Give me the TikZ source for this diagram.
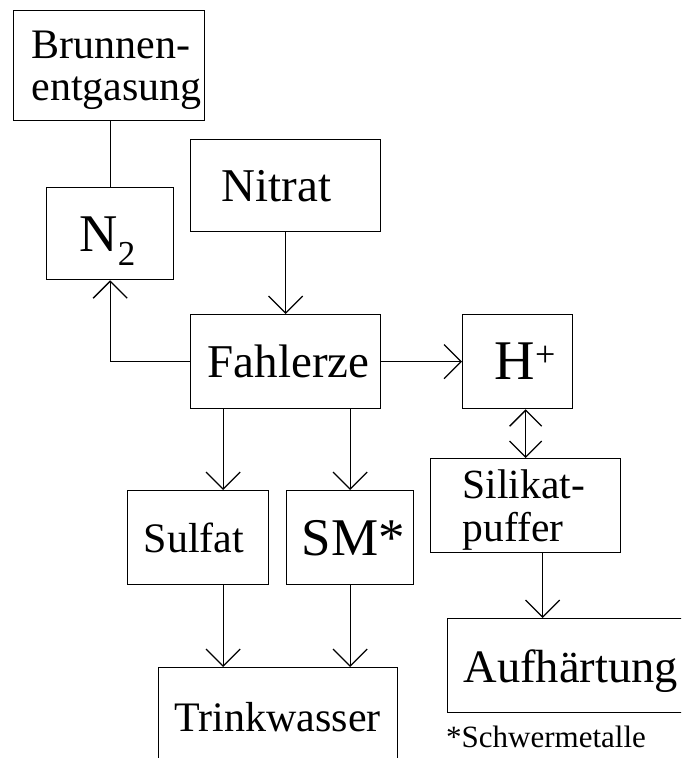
\documentclass[tikz,border=0pt]{standalone}
\usepackage{fontspec}
\setmainfont{Liberation Serif}
\usetikzlibrary{arrows.meta}
\hyphenpenalty=10000
\exhyphenpenalty=10000

\begin{document}
\begin{tikzpicture}[x=1pt, y=-1pt,
    box/.style={draw, line width=1.3pt, anchor=north west, inner ysep=0pt, align=left, text depth=0pt},
    link/.style={line width=1.3pt},
    arr/.style={link, -{Straight Barb[length=17pt, width=34pt]}},
    dblarr/.style={link, {Straight Barb[length=16pt, width=32pt]}-{Straight Barb[length=16pt, width=32pt]}}]

    \path[use as bounding box, clip] (0,0) rectangle (681,758);

    % boxes
    \node[box, minimum height=110, inner xsep=18, text width=155pt, text depth=42pt, font=\fontsize{42}{42}\selectfont] (brunnen) at (13,10) {Brunnen-\\entgasung};
    \node[box, minimum height=92, inner xsep=33, text width=61pt, font=\fontsize{53}{53}\selectfont] (n2) at (46,187) {N\raisebox{-14pt}{\fontsize{35}{35}\selectfont 2}};
    \node[box, minimum height=92, inner xsep=31, text width=128pt, font=\fontsize{47}{47}\selectfont] (nitrat) at (190,139) {Nitrat};
    \node[box, minimum height=94, inner xsep=17, text width=156pt, font=\fontsize{47}{47}\selectfont] (fahlerze) at (190,314) {Fahlerze};
    \node[box, minimum height=94, inner xsep=32, text width=46pt, font=\fontsize{56}{56}\selectfont] (hplus) at (462,314) {H\raisebox{13pt}{\fontsize{36}{36}\selectfont +}};
    \node[box, minimum height=94, inner xsep=32, text width=126pt, text depth=43pt, font=\fontsize{41.5}{43}\selectfont] (silikat) at (430,458) {Silikat-\\puffer};
    \node[box, minimum height=94, inner xsep=16, text width=260pt, font=\fontsize{46.5}{46.5}\selectfont] (aufh) at (447,618) {Aufhärtung};
    \node[box, minimum height=94, inner xsep=16, text width=109pt, font=\fontsize{42}{42}\selectfont] (sulfat) at (127,490) {Sulfat};
    \node[box, minimum height=94, inner xsep=15, text width=97pt, font=\fontsize{53}{53}\selectfont] (sm) at (286,490) {SM*};
    \node[box, minimum height=98, inner xsep=16, text width=207pt, font=\fontsize{42}{42}\selectfont] (trink) at (158,667) {Trinkwasser};
    \node[anchor=base west, inner sep=0pt, font=\fontsize{31}{31}\selectfont] (note) at (446,747) {*Schwermetalle};

    % connectors
    \draw[link] (n2.north) -- (n2.north |- brunnen.south);
    \draw[arr] (fahlerze.west) -| (n2.south);
    \draw[arr] (nitrat.south) -- (fahlerze.north);
    \draw[arr] (fahlerze.east) -- (hplus.west);
    \draw[dblarr] (silikat.north |- hplus.south) -- (silikat.north);

    \coordinate (sa) at ([xshift=17]silikat.south);
    \draw[arr] (sa) -- (sa |- aufh.north);

    \coordinate (sl) at ([xshift=25]sulfat.north);
    \draw[arr] (fahlerze.south -| sl) -- (sl);
    \draw[arr] (fahlerze.south -| sm.north) -- (sm.north);
    \draw[arr] (sulfat.south -| sl) -- (trink.north -| sl);
    \draw[arr] (sm.south) -- (trink.north -| sm.south);

\end{tikzpicture}
\end{document}
